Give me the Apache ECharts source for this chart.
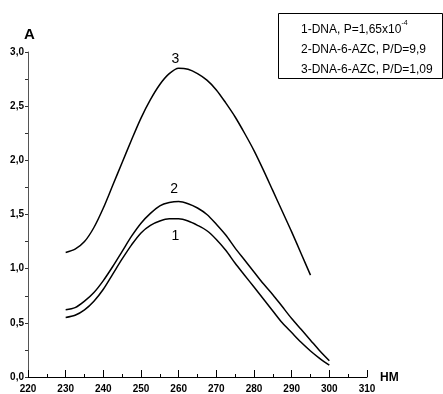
<!DOCTYPE html>
<html>
<head>
<meta charset="utf-8">
<script src="https://cdn.jsdelivr.net/npm/echarts@6/dist/echarts.min.js"></script>
<style>
  html, body { margin: 0; padding: 0; background: #fff; }
  #chart { width: 443px; height: 394px; }
</style>
</head>
<body>
<div id="chart"></div>
<script>
// wavelength, nm
const x1 = [230, 232.5, 235, 237.5, 240, 242.5, 245, 247.5, 250, 252.5, 255, 257.5, 260, 262.5, 265,
  267.5, 270, 272.5, 275, 277.5, 280, 282.5, 285, 287.5, 290, 292.5, 295, 297.5, 300];
const y1 = [0.55, 0.57, 0.62, 0.70, 0.81, 0.95, 1.09, 1.22, 1.33, 1.40, 1.44, 1.46, 1.46, 1.44, 1.40,
  1.35, 1.27, 1.17, 1.05, 0.94, 0.83, 0.72, 0.61, 0.50, 0.41, 0.32, 0.24, 0.17, 0.11];
const x2 = x1;
const y2 = [0.62, 0.64, 0.70, 0.78, 0.89, 1.02, 1.16, 1.30, 1.42, 1.51, 1.58, 1.61, 1.62, 1.60, 1.56,
  1.50, 1.41, 1.31, 1.19, 1.08, 0.97, 0.86, 0.76, 0.65, 0.54, 0.44, 0.34, 0.24, 0.15];
const x3 = [230, 232.5, 235, 237.5, 240, 242.5, 245, 247.5, 250, 252.5, 255, 257.5, 260, 262.5, 265,
  267.5, 270, 272.5, 275, 277.5, 280, 282.5, 285, 287.5, 290, 292.5, 295];
const y3 = [1.15, 1.18, 1.25, 1.38, 1.56, 1.77, 1.98, 2.19, 2.39, 2.56, 2.70, 2.80, 2.85, 2.84, 2.80,
  2.74, 2.65, 2.53, 2.40, 2.25, 2.09, 1.91, 1.72, 1.53, 1.34, 1.14, 0.94];

// curve number labels: [x, y, text]
const curveLabels = [
  [259.1, 1.30, '1'],
  [258.8, 1.73, '2'],
  [259.1, 2.93, '3']
];

const legendLines = [
  '1-DNA, P=1,65x10{sup|-4}',
  '2-DNA-6-AZC, P/D=9,9',
  '3-DNA-6-AZC, P/D=1,09'
];

const chart = echarts.init(document.getElementById('chart'));

const zip = (xs, ys) => xs.map((x, i) => [x, ys[i]]);

const makeSeries = (data, label) => ({
  type: 'line',
  data: data,
  smooth: 0.3,
  symbol: 'none',
  lineStyle: { color: '#000', width: 1.5 },
  markPoint: {
    symbol: 'circle',
    symbolSize: 0,
    label: {
      show: true,
      position: 'inside',
      color: '#000',
      fontSize: 14,
      fontFamily: 'Liberation Sans',
      formatter: label[2]
    },
    data: [{ coord: [label[0], label[1]] }]
  }
});

const tickFont = {
  color: '#000',
  fontSize: 10,
  fontWeight: 'bold',
  fontFamily: 'Liberation Sans'
};

chart.setOption({
  animation: false,
  grid: { left: 28, right: 76, top: 52, bottom: 15 },
  xAxis: {
    type: 'value',
    min: 220,
    max: 310,
    interval: 10,
    axisLine: { show: true, lineStyle: { color: '#000', width: 1 } },
    axisTick: { show: true, inside: true, length: 7, lineStyle: { color: '#000' } },
    minorTick: { show: true, splitNumber: 2, length: 3, lineStyle: { color: '#000' } },
    splitLine: { show: false },
    axisLabel: Object.assign({ margin: 7, showMinLabel: true, showMaxLabel: true }, tickFont)
  },
  yAxis: {
    type: 'value',
    min: 0,
    max: 3,
    interval: 0.5,
    axisLine: { show: true, lineStyle: { color: '#555', width: 1 } },
    axisTick: { show: true, inside: false, length: 3, lineStyle: { color: '#333' } },
    minorTick: { show: true, splitNumber: 2, length: 3, lineStyle: { color: '#333' } },
    splitLine: { show: false },
    axisLabel: Object.assign({
      margin: 4,
      formatter: v => v.toFixed(1).replace('.', ',')
    }, tickFont)
  },
  series: [
    makeSeries(zip(x1, y1), curveLabels[0]),
    makeSeries(zip(x2, y2), curveLabels[1]),
    makeSeries(zip(x3, y3), curveLabels[2])
  ],
  graphic: [
    {
      type: 'text',
      left: 24,
      top: 27,
      style: { text: 'A', fontSize: 15, fontWeight: 'bold', fontFamily: 'Liberation Sans', fill: '#000' }
    },
    {
      type: 'text',
      left: 380,
      top: 372,
      style: { text: 'HM', fontSize: 12, fontWeight: 'bold', fontFamily: 'Liberation Sans', fill: '#000' }
    },
    {
      type: 'rect',
      left: 278,
      top: 13,
      shape: { width: 164, height: 65 },
      style: { fill: '#fff', stroke: '#000', lineWidth: 1 }
    },
    {
      type: 'text',
      left: 301,
      top: 20,
      style: {
        text: legendLines.join('\n'),
        fontSize: 12,
        lineHeight: 20,
        fontFamily: 'Liberation Sans',
        fill: '#000',
        rich: {
          sup: { fontSize: 7, verticalAlign: 'top', padding: [0, 0, 6, 0], lineHeight: 20 }
        }
      }
    }
  ]
});
</script>
</body>
</html>
